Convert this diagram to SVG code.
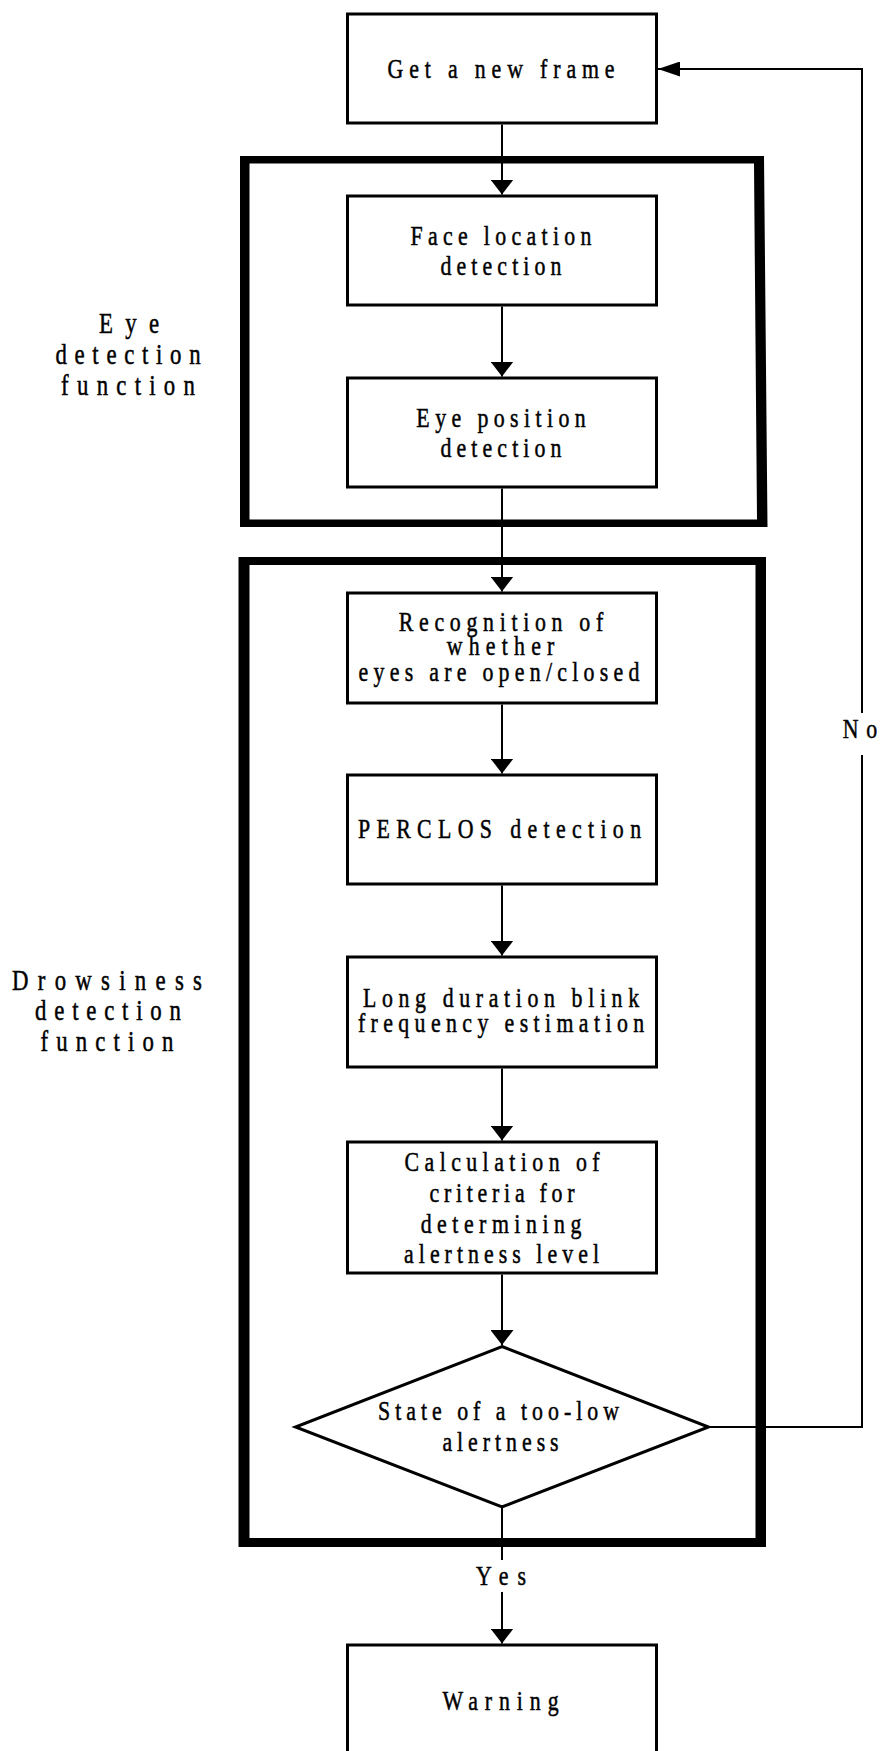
<svg xmlns="http://www.w3.org/2000/svg" width="882" height="1751" viewBox="0 0 882 1751">
<defs>
<style>
.box{fill:#fff;stroke:#000;stroke-width:3}
.grp{fill:#000;fill-rule:evenodd;stroke:none}
.con{fill:none;stroke:#000;stroke-width:2}
.t{font-family:"Liberation Serif","Times New Roman",serif;font-size:28px;fill:#000;stroke:#000;stroke-width:0.5;text-anchor:middle}
.lbl{font-family:"Liberation Serif","Times New Roman",serif;font-size:30px;fill:#000;stroke:#000;stroke-width:0.5;text-anchor:middle}
</style>
<marker id="arrV" markerUnits="userSpaceOnUse" markerWidth="15" markerHeight="23" refX="15" refY="11.5" orient="auto" viewBox="0 0 15 23">
<path d="M0,0 L15,11.5 L0,23 Z" fill="#000"/>
</marker>
<marker id="arrH" markerUnits="userSpaceOnUse" markerWidth="22" markerHeight="15" refX="22" refY="7.5" orient="auto" viewBox="0 0 22 15">
<path d="M0,0 L22,7.5 L0,15 Z" fill="#000"/>
</marker>
</defs>
<rect width="882" height="1751" fill="#fff"/>

<g id="eye-detection-group">
<path class="grp" d="M240,156 L764,156 L767.5,527 L240,527 Z M249.5,163.5 L754,163.5 L757,519.5 L249.5,519.5 Z"/>
<text class="lbl" transform="translate(129 333) scale(0.76 1)" textLength="79">Eye</text>
<text class="lbl" transform="translate(128 364) scale(0.76 1)" textLength="191">detection</text>
<text class="lbl" transform="translate(128 395) scale(0.76 1)" textLength="176">function</text>
</g>

<g id="drowsiness-detection-group">
<path class="grp" d="M238.5,557 L766,557 L766,1547 L238.5,1547 Z M249.5,565 L755.5,565 L755.5,1538 L249.5,1538 Z"/>
<text class="lbl" transform="translate(107 990) scale(0.76 1)" textLength="250">Drowsiness</text>
<text class="lbl" transform="translate(108 1020) scale(0.76 1)" textLength="192">detection</text>
<text class="lbl" transform="translate(107 1051) scale(0.76 1)" textLength="175">function</text>
</g>

<g id="connectors">
<line class="con" x1="502" y1="124.5" x2="502" y2="194.5" marker-end="url(#arrV)"/>
<line class="con" x1="502" y1="306.5" x2="502" y2="376.5" marker-end="url(#arrV)"/>
<line class="con" x1="502" y1="488.5" x2="502" y2="591.5" marker-end="url(#arrV)"/>
<line class="con" x1="502" y1="704.5" x2="502" y2="773.5" marker-end="url(#arrV)"/>
<line class="con" x1="502" y1="885.5" x2="502" y2="955.5" marker-end="url(#arrV)"/>
<line class="con" x1="502" y1="1068.5" x2="502" y2="1140.5" marker-end="url(#arrV)"/>
<line class="con" x1="502" y1="1274.5" x2="502" y2="1345" marker-end="url(#arrV)"/>
<line class="con" x1="502" y1="1507" x2="502" y2="1560"/>
<line class="con" x1="502" y1="1592" x2="502" y2="1643.5" marker-end="url(#arrV)"/>
<path class="con" d="M708.5,1427 H862 V755"/>
<path class="con" d="M862,713 V69 H658" marker-end="url(#arrH)"/>
<text class="t" transform="translate(501 1585) scale(0.78 1)" textLength="64">Yes</text>
<text class="t" transform="translate(860 738) scale(0.78 1)" textLength="44">No</text>
</g>

<g id="get-new-frame">
<rect class="box" x="347.5" y="14" width="309" height="109"/>
<text class="t" transform="translate(501 78) scale(0.78 1)" textLength="291">Get a new frame</text>
</g>

<g id="face-location">
<rect class="box" x="347.5" y="196" width="309" height="109"/>
<text class="t" transform="translate(501 245) scale(0.78 1)" textLength="232">Face location</text>
<text class="t" transform="translate(501 275) scale(0.78 1)" textLength="155">detection</text>
</g>

<g id="eye-position">
<rect class="box" x="347.5" y="378" width="309" height="109"/>
<text class="t" transform="translate(501 427) scale(0.78 1)" textLength="217">Eye position</text>
<text class="t" transform="translate(501 457) scale(0.78 1)" textLength="155">detection</text>
</g>

<g id="recognition">
<rect class="box" x="347.5" y="593" width="309" height="110"/>
<text class="t" transform="translate(501 631) scale(0.78 1)" textLength="262">Recognition of</text>
<text class="t" transform="translate(500.5 655) scale(0.78 1)" textLength="138">whether</text>
<text class="t" transform="translate(499 681) scale(0.78 1)" textLength="360">eyes are open/closed</text>
</g>

<g id="perclos">
<rect class="box" x="347.5" y="775" width="309" height="109"/>
<text class="t" transform="translate(499.5 838) scale(0.78 1)" textLength="363">PERCLOS detection</text>
</g>

<g id="long-duration">
<rect class="box" x="347.5" y="957" width="309" height="110"/>
<text class="t" transform="translate(501 1007) scale(0.78 1)" textLength="354">Long duration blink</text>
<text class="t" transform="translate(501 1032) scale(0.78 1)" textLength="367">frequency estimation</text>
</g>

<g id="calculation">
<rect class="box" x="347.5" y="1142" width="309" height="131"/>
<text class="t" transform="translate(502 1171) scale(0.78 1)" textLength="250">Calculation of</text>
<text class="t" transform="translate(502 1202) scale(0.78 1)" textLength="186">criteria for</text>
<text class="t" transform="translate(501 1233) scale(0.78 1)" textLength="206">determining</text>
<text class="t" transform="translate(501.5 1263) scale(0.78 1)" textLength="250">alertness level</text>
</g>

<g id="decision">
<polygon class="box" points="502,1346.5 708.5,1427 502,1507 295.5,1427"/>
<text class="t" transform="translate(498.5 1420) scale(0.78 1)" textLength="309">State of a too-low</text>
<text class="t" transform="translate(500.5 1451) scale(0.78 1)" textLength="149">alertness</text>
</g>

<g id="warning">
<rect class="box" x="347.5" y="1645" width="309" height="110"/>
<text class="t" transform="translate(500.5 1710) scale(0.78 1)" textLength="149">Warning</text>
</g>
</svg>
